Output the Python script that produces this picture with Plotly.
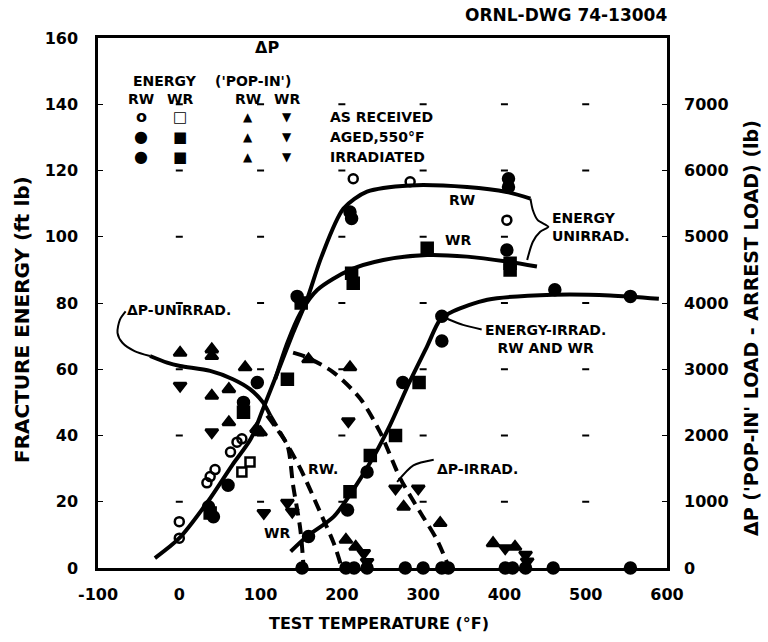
import plotly.graph_objects as go

# ---------------- data ----------------
# Fracture energy curves (ft lb) vs test temperature (F)
en_unirr_rw_x = [-30, 0, 35, 65, 88, 103, 124, 140, 157, 175, 202, 231, 284, 354, 403, 432]
en_unirr_rw_y = [3, 9, 20, 31, 39, 48, 61, 71, 81, 94, 108.5, 113.6, 115.5, 115, 113.5, 111.5]
en_unirr_wr_x = [118, 133, 149, 170, 210, 251, 305, 354, 403, 440]
en_unirr_wr_y = [57, 68, 77, 84, 90, 93, 94.5, 94, 92.5, 91]
en_irr_x = [137, 157, 190, 214, 239, 259, 283, 305, 321, 337, 379, 460, 530, 590]
en_irr_y = [5, 9.5, 15.5, 23.6, 33.6, 43, 56, 67, 75, 77.5, 81, 82.5, 82.3, 81.3]

# Delta-P curves (lb, right axis)
dp_unirr_x = [-36, -15, 1, 38, 66, 87, 103, 112]
dp_unirr_y = [3200, 3100, 3050, 2975, 2850, 2700, 2500, 2300]
dp_unirr_rw_x = [112, 124, 149, 173, 190, 200]
dp_unirr_rw_y = [2300, 2050, 1500, 850, 375, 0]
dp_unirr_wr_x = [108, 120, 133, 140, 149, 153]
dp_unirr_wr_y = [2300, 2100, 1850, 1250, 575, 0]
dp_irr_x = [140, 157, 190, 223, 247, 272, 296, 317, 332]
dp_irr_y = [3250, 3180, 2950, 2550, 2050, 1350, 850, 425, 0]

# Energy data points
e_rw_asrec_x = [0, 0, 34, 38, 44, 63, 71, 77, 214, 284, 403]
e_rw_asrec_y = [14, 9, 25.7, 27.6, 29.7, 35, 38, 39, 117.5, 116.6, 105]
e_wr_asrec_x = [77, 87]
e_wr_asrec_y = [29, 32]
e_rw_aged_x = [36, 42, 60, 96, 145, 210, 212, 405, 405, 403, 79]
e_rw_aged_y = [18.5, 15.5, 25, 56, 82, 107.5, 105.5, 117.5, 115, 96, 50]
e_wr_aged_x = [38, 79, 133, 150, 212, 214, 305, 407, 407]
e_wr_aged_y = [16.6, 47, 57, 80, 89, 86, 96.5, 92, 90]
e_irr_rw_x = [159, 207, 231, 275, 323, 323, 462, 555]
e_irr_rw_y = [9.5, 17.5, 29, 56, 76, 68.5, 84, 82]
e_irr_wr_x = [210, 235, 266, 295]
e_irr_wr_y = [23, 34, 40, 56]

# Delta-P data points (lb)
p_rw_unirr_x = [1, 40, 40, 40, 61, 61, 81, 100, 95]
p_rw_unirr_y = [3250, 3300, 3200, 2600, 2700, 2200, 3030, 2050, 2100]
p_wr_unirr_x = [1, 40, 104, 133, 139]
p_wr_unirr_y = [2750, 2050, 830, 985, 850]
p_rw_irr_x = [159, 210, 276, 321, 386, 413, 205, 217]
p_rw_irr_y = [3150, 3030, 925, 680, 375, 320, 425, 320]
p_wr_irr_x = [208, 266, 294, 227, 231, 401, 426, 428]
p_wr_irr_y = [2215, 1200, 1200, 225, 90, 300, 200, 100]
p_zero_x = [151, 205, 215, 231, 278, 300, 323, 331, 401, 410, 426, 460, 555]
p_zero_y = [0] * 13

# leader lines (ft lb scale)
lead_dpu_x = [-66, -73, -76, -70, -55, -36]
lead_dpu_y = [77.5, 75, 71, 68, 65.5, 64]
lead_eu_x = [432, 435, 441, 454, 444, 435, 428]
lead_eu_y = [111.5, 108, 105, 103, 101.5, 98.5, 93]
lead_ei_x = [323, 337, 349, 372]
lead_ei_y = [76, 74.5, 73.4, 72]
lead_dpi_x = [268, 288, 313]
lead_dpi_y = [26, 31, 32.7]

x_ticks = [-100, 0, 100, 200, 300, 400, 500, 600]
y_ticks = [0, 20, 40, 60, 80, 100, 120, 140, 160]
y2_ticks = [0, 1000, 2000, 3000, 4000, 5000, 6000, 7000]

INK = "black"
FONT = "DejaVu Sans"
PL, PR, PT, PB = 98, 101, 38, 74  # margins (px)
PW, PH = 768 - PL - PR, 642 - PT - PB

def px(xp):
    return (xp - PL) / PW

def py(yp):
    return 1 - (yp - PT) / PH

fig = go.Figure()

def line(x, y, width=4, dash="solid", y2=False):
    fig.add_trace(go.Scatter(x=x, y=y, mode="lines", line=dict(color=INK, width=width, dash=dash, shape="spline", smoothing=0.8),
                             yaxis="y2" if y2 else "y", hoverinfo="skip", showlegend=False))

def pts(x, y, symbol, size=11, y2=False):
    fig.add_trace(go.Scatter(x=x, y=y, mode="markers",
                             marker=dict(symbol=symbol, size=size, color=INK, line=dict(color=INK, width=2.5)),
                             yaxis="y2" if y2 else "y", showlegend=False, cliponaxis=False))

# grid dots
gx, gy = [], []
for xv in x_ticks[1:-1]:
    for yv in y_ticks[1:-1]:
        gx.append(xv); gy.append(yv)
fig.add_trace(go.Scatter(x=gx, y=gy, mode="markers", marker=dict(symbol="line-ew", size=5, line=dict(color=INK, width=2)),
                         showlegend=False, hoverinfo="skip"))

DASH = "12px,7px"
line(en_unirr_rw_x, en_unirr_rw_y)
line(en_unirr_wr_x, en_unirr_wr_y)
line(en_irr_x, en_irr_y)
line(dp_unirr_x, dp_unirr_y, y2=True)
line(dp_unirr_rw_x, dp_unirr_rw_y, dash=DASH, y2=True)
line(dp_unirr_wr_x, dp_unirr_wr_y, dash=DASH, y2=True)
line(dp_irr_x, dp_irr_y, dash=DASH, y2=True)
for lx, ly in [(lead_dpu_x, lead_dpu_y), (lead_eu_x, lead_eu_y), (lead_ei_x, lead_ei_y), (lead_dpi_x, lead_dpi_y)]:
    line(lx, ly, width=2)

pts(e_rw_asrec_x, e_rw_asrec_y, "circle-open", 9)
pts(e_wr_asrec_x, e_wr_asrec_y, "square-open", 9)
pts(e_rw_aged_x, e_rw_aged_y, "circle", 11)
pts(e_wr_aged_x, e_wr_aged_y, "square", 11)
pts(e_irr_rw_x, e_irr_rw_y, "circle", 11)
pts(e_irr_wr_x, e_irr_wr_y, "square", 11)
pts(p_rw_unirr_x, p_rw_unirr_y, "triangle-up", 11, y2=True)
pts(p_wr_unirr_x, p_wr_unirr_y, "triangle-down", 11, y2=True)
pts(p_rw_irr_x, p_rw_irr_y, "triangle-up", 11, y2=True)
pts(p_wr_irr_x, p_wr_irr_y, "triangle-down", 11, y2=True)
pts(p_zero_x, p_zero_y, "circle", 11, y2=True)

ann = []
def txt(x, y, s, size=14, xanchor="center", align="center"):
    ann.append(dict(x=x, y=y, xref="x", yref="y", text=s, showarrow=False, xanchor=xanchor, align=align,
                    font=dict(family=FONT, size=size, color=INK, weight="bold")))

# key (table-style legend)
txt(108, 157, "ΔP", 16)
txt(-18, 147, "ENERGY", 14)
txt(91, 147, "('POP-IN')", 14)
for cx, lab in [(-47, "RW"), (1, "WR"), (85, "RW"), (133, "WR")]:
    txt(cx, 141.7, lab, 14)
key_rows = [(136.3, "o", "□", "AS RECEIVED"), (130.2, "●", "■", "AGED,550°F"), (124.2, "●", "■", "IRRADIATED")]
for ry, c1, c2, lab in key_rows:
    txt(-47, ry, c1, 16)
    txt(1, ry, c2, 15)
    txt(85, ry, "▲", 12)
    txt(133, ry, "▼", 12)
    txt(183, ry, lab, 14, xanchor="left")

txt(-67, 78, "ΔP-UNIRRAD.", 14, xanchor="left")
txt(177, 30, "RW.", 14)
txt(120, 10.6, "WR", 14)
txt(348, 111, "RW", 14)
txt(343, 99, "WR", 14)
txt(456, 103, "ENERGY<br>UNIRRAD.", 14, xanchor="left", align="left")
txt(374, 69, "ENERGY-IRRAD.<br>RW AND WR", 14, xanchor="left", align="center")
txt(315, 30, "ΔP-IRRAD.", 14, xanchor="left")

def paper_txt(xp, yp, s, size, angle=0):
    ann.append(dict(xref="paper", yref="paper", x=px(xp), y=py(yp), text=s, showarrow=False,
                    xanchor="center", yanchor="middle", textangle=angle,
                    font=dict(family=FONT, size=size, color=INK, weight="bold")))

paper_txt(566, 15, "ORNL-DWG 74-13004", 17)
paper_txt(22, 320, "FRACTURE ENERGY (ft lb)", 20, -90)
paper_txt(751, 328, "ΔP ('POP-IN' LOAD - ARREST LOAD) (lb)", 19, -90)
paper_txt(379, 623, "TEST TEMPERATURE (°F)", 16)

axis_font = dict(family=FONT, size=16, color=INK, weight="bold")

fig.update_layout(
    width=768, height=642,
    margin=dict(l=PL, r=PR, t=PT, b=PB),
    paper_bgcolor="white", plot_bgcolor="white",
    font=dict(family=FONT, color=INK),
    annotations=ann,
    xaxis=dict(range=[-100, 600], tickvals=x_ticks, ticktext=[str(v) for v in x_ticks], showgrid=False, zeroline=False,
               showline=True, linecolor=INK, linewidth=2.5, mirror=True, ticks="", tickfont=axis_font,
               ticklabelstandoff=10),
    yaxis=dict(range=[0, 160], tickvals=y_ticks, showgrid=False, zeroline=False, showline=True, linecolor=INK,
               linewidth=2.5, mirror=True, ticks="inside", ticklen=5, tickcolor=INK, tickfont=axis_font,
               ticklabelstandoff=14),
    yaxis2=dict(range=[0, 8000], tickvals=y2_ticks, overlaying="y", side="right", showgrid=False, zeroline=False,
                showline=False, ticks="inside", ticklen=5, tickcolor=INK, tickfont=axis_font, ticklabelstandoff=16),
)

fig.write_html("out.html")
